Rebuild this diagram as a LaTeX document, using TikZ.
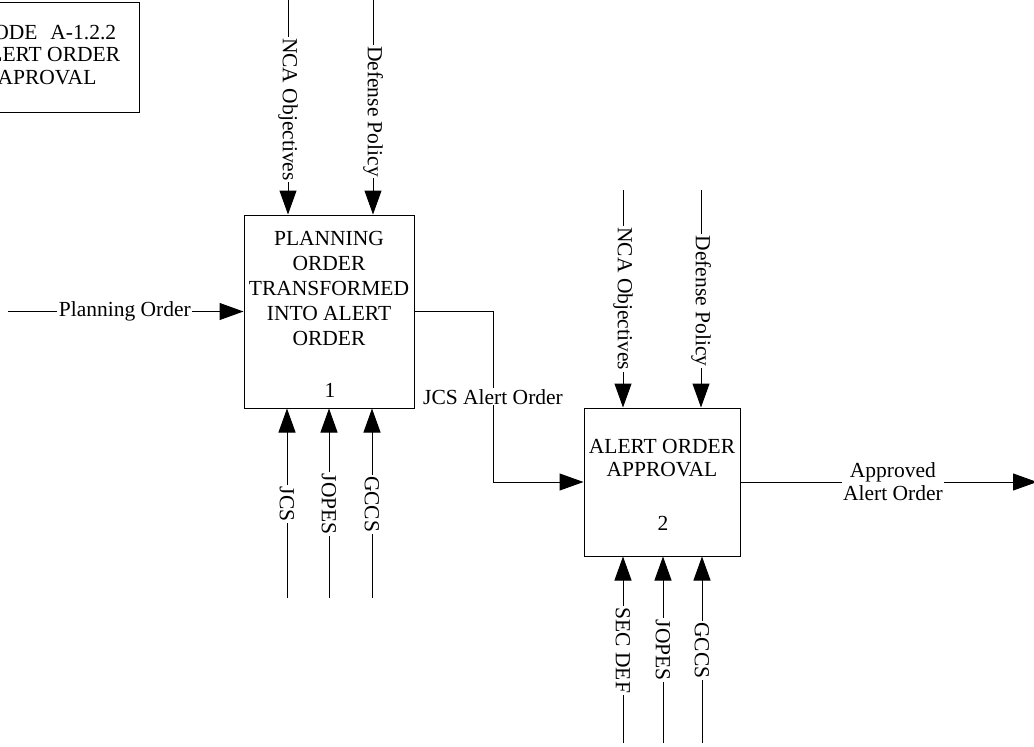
\documentclass[tikz,border=0pt]{standalone}
\usepackage{fontspec}
\setmainfont{Liberation Serif}
\usetikzlibrary{arrows.meta}
\begin{document}
\begin{tikzpicture}[x=1pt,y=-1pt,
  every node/.style={font=\fontsize{21.5}{25}\selectfont},
  arr/.style={line width=1pt,-{Triangle[length=24pt,width=17pt]}},
  box/.style={draw,line width=1pt,inner sep=0pt},
  lab/.style={fill=white,inner xsep=1.5pt,inner ysep=1pt},
  vlab/.style={fill=white,rotate=-90,inner xsep=1.5pt,inner ysep=1pt}]
\useasboundingbox (0,0) rectangle (1034,747);
\clip (0,0) rectangle (1034,747);

% title block
\node[box,minimum width=184pt,minimum height=110pt] (title) at (47,57) {};
\node[align=center,font=\fontsize{21.5}{22.5}\selectfont] (titletext) at (47,55) {NODE\hspace{0.6em}A-1.2.2\\ALERT ORDER\\APROVAL};

% box 1
\node[box,minimum width=170pt,minimum height=193pt] (b1) at (329,311.5) {};
\node[align=center] (b1text) at (329,288) {PLANNING\\ORDER\\TRANSFORMED\\INTO ALERT\\ORDER};
\node (b1num) at (330,390) {1};

% box 2
\node[box,minimum width=156pt,minimum height=148pt] (b2) at (662,482) {};
\node[align=center,font=\fontsize{21.5}{23}\selectfont] (b2text) at (662,458) {ALERT ORDER\\APPROVAL};
\node (b2num) at (663,523) {2};

% free ends
\coordinate (nca1) at (288,0);
\coordinate (def1) at (373,0);
\coordinate (jcs1) at (287,598);
\coordinate (jopes1) at (329,598);
\coordinate (gccs1) at (372,598);
\coordinate (plan) at (8,311.5);
\coordinate (nca2) at (623,190);
\coordinate (def2) at (701,190);
\coordinate (sec2) at (623,743);
\coordinate (jopes2) at (663,743);
\coordinate (gccs2) at (702,743);
\coordinate (turn) at (493,0);
\coordinate (out) at (1037,482);

% box 1 connectors
\draw[arr] (nca1) -- node[vlab,pos=0.51]{NCA Objectives} (nca1 |- b1.north);
\draw[arr] (def1) -- node[vlab,pos=0.52]{Defense Policy} (def1 |- b1.north);
\draw[arr] (jcs1) -- node[vlab,pos=0.495]{JCS} (jcs1 |- b1.south);
\draw[arr] (jopes1) -- node[vlab,pos=0.495]{JOPES} (jopes1 |- b1.south);
\draw[arr] (gccs1) -- node[vlab,pos=0.495]{GCCS} (gccs1 |- b1.south);
\draw[arr] (plan) -- node[lab,pos=0.496]{Planning Order} (b1.west);

% link
\draw[arr] (b1.east) -| node[lab,pos=0.75]{JCS Alert Order} (turn |- b2.west) -- (b2.west);

% box 2 connectors
\draw[arr] (nca2) -- node[vlab,pos=0.5]{NCA Objectives} (nca2 |- b2.north);
\draw[arr] (def2) -- node[vlab,pos=0.51]{Defense Policy} (def2 |- b2.north);
\draw[arr] (sec2) -- node[vlab,pos=0.497]{SEC DEF} (sec2 |- b2.south);
\draw[arr] (jopes2) -- node[vlab,pos=0.497]{JOPES} (jopes2 |- b2.south);
\draw[arr] (gccs2) -- node[vlab,pos=0.497]{GCCS} (gccs2 |- b2.south);
\draw[arr] (b2.east) -- node[lab,align=center,font=\fontsize{21.5}{23}\selectfont,pos=0.514]{Approved\\Alert Order} (out);
\end{tikzpicture}
\end{document}
